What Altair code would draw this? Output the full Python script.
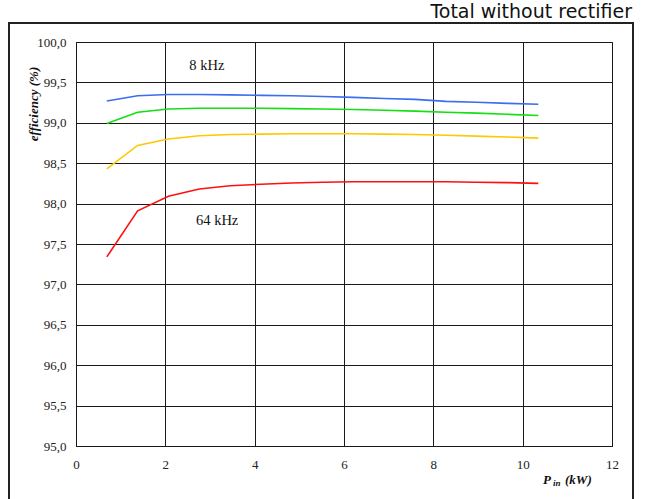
import altair as alt
import pandas as pd

# Input power (kW) at each measurement point
p_in = [0.69, 1.38, 2.07, 2.76, 3.45, 4.14, 4.83, 5.52, 6.21, 6.90,
        7.59, 8.28, 8.97, 9.66, 10.35]

# Efficiency (%) for each switching frequency curve, top to bottom
eff_blue = [99.27, 99.335, 99.35, 99.35, 99.345, 99.34, 99.335, 99.325,
            99.315, 99.30, 99.29, 99.265, 99.255, 99.24, 99.23]
eff_green = [98.99, 99.13, 99.17, 99.18, 99.18, 99.18, 99.175, 99.17,
             99.165, 99.155, 99.145, 99.13, 99.12, 99.105, 99.09]
eff_yellow = [98.43, 98.72, 98.80, 98.84, 98.855, 98.86, 98.865, 98.865,
              98.865, 98.86, 98.855, 98.845, 98.835, 98.825, 98.81]
eff_red = [97.34, 97.91, 98.09, 98.18, 98.22, 98.24, 98.255, 98.265,
           98.27, 98.27, 98.27, 98.27, 98.265, 98.26, 98.25]

series_names = ["s1", "s2", "s3", "s4"]
series_colors = ["#3a6df0", "#12e012", "#ffc800", "#ff1010"]

x_ticks = [0, 2, 4, 6, 8, 10, 12]
y_ticks = [95.0, 95.5, 96.0, 96.5, 97.0, 97.5, 98.0, 98.5, 99.0, 99.5, 100.0]

rows = []
for name, vals in zip(series_names, [eff_blue, eff_green, eff_yellow, eff_red]):
    for p, e in zip(p_in, vals):
        rows.append({"p": p, "eff": e, "series": name})
df = pd.DataFrame(rows)

W, H = 536, 404
serif = "Liberation Serif"

x_scale = alt.Scale(domain=[0, 12], nice=False, zero=False)
y_scale = alt.Scale(domain=[95, 100], nice=False, zero=False)

lines = alt.Chart(df).mark_line(strokeWidth=1.6).encode(
    x=alt.X("p:Q", scale=x_scale,
            axis=alt.Axis(values=x_ticks, title=None, grid=True, gridColor="#1a1a1a",
                          gridOpacity=1, gridWidth=1, domainColor="#1a1a1a",
                          ticks=False, labelPadding=12, labelFont=serif,
                          labelFontSize=13, labelColor="#222", labelFlush=False,
                          labelOverlap=False)),
    y=alt.Y("eff:Q", scale=y_scale,
            axis=alt.Axis(values=y_ticks, title=None, grid=True, gridColor="#1a1a1a",
                          gridOpacity=1, gridWidth=1, domainColor="#1a1a1a",
                          ticks=False, labelPadding=10, labelFont=serif,
                          labelFontSize=13, labelColor="#222", labelFlush=False,
                          labelOverlap=False,
                          labelExpr="replace(format(datum.value, '.1f'), '.', ',')")),
    color=alt.Color("series:N", scale=alt.Scale(domain=series_names, range=series_colors),
                    legend=None),
    detail="series:N",
)

# Curve annotations placed in data coordinates
ann = pd.DataFrame({"p": [2.93, 3.16], "eff": [99.70, 97.78], "label": ["8 kHz", "64 kHz"]})
ann_text = alt.Chart(ann).mark_text(font=serif, fontSize=14.5, color="#111",
                                    baseline="middle", align="center").encode(
    x=alt.X("p:Q", scale=x_scale), y=alt.Y("eff:Q", scale=y_scale), text="label:N")

one = pd.DataFrame({"k": [0]})

# Outer frame around the whole figure
frame = alt.Chart(one).mark_rect(fill="white", fillOpacity=0, stroke="#222",
                                 strokeWidth=2).encode(
    x=alt.value(-67), x2=alt.value(557), y=alt.value(-19), y2=alt.value(470))

title = alt.Chart(one).mark_text(text="Total without rectifier", font="DejaVu Sans",
                                 fontSize=19, align="right", baseline="alphabetic",
                                 color="#111").encode(
    x=alt.value(556), y=alt.value(-24))

y_title = alt.Chart(one).mark_text(text="efficiency (%)", font=serif, fontSize=13,
                                   fontWeight="bold", fontStyle="italic", angle=270,
                                   align="center", baseline="middle",
                                   color="#111").encode(
    x=alt.value(-42), y=alt.value(62))

x_title_p = alt.Chart(one).mark_text(text="P", font=serif, fontSize=13, fontWeight="bold",
                                     fontStyle="italic", align="left",
                                     baseline="alphabetic", color="#111").encode(
    x=alt.value(467), y=alt.value(442))
x_title_sub = alt.Chart(one).mark_text(text="in", font=serif, fontSize=9, fontWeight="bold",
                                       fontStyle="italic", align="left",
                                       baseline="alphabetic", color="#111").encode(
    x=alt.value(477), y=alt.value(444))
x_title_unit = alt.Chart(one).mark_text(text="(kW)", font=serif, fontSize=13,
                                        fontWeight="bold", fontStyle="italic",
                                        align="left", baseline="alphabetic",
                                        color="#111").encode(
    x=alt.value(489), y=alt.value(442))

chart = alt.layer(
    frame, lines, ann_text, title, y_title, x_title_p, x_title_sub, x_title_unit
).properties(
    width=W, height=H,
    autosize=alt.AutoSizeParams(type="none"),
    padding={"left": 76, "top": 42, "right": 33, "bottom": 53},
    background="white",
).configure_view(stroke="#1a1a1a", strokeWidth=1)

chart.save("out.html", embed_options={"renderer": "svg", "actions": False})
